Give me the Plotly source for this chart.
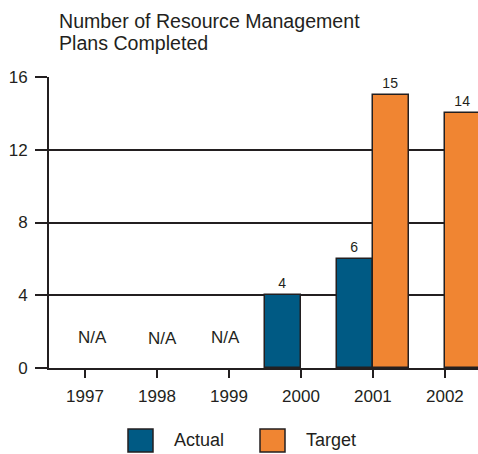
import plotly.graph_objects as go

years = ["1997", "1998", "1999", "2000", "2001", "2002"]
actual = [None, None, None, 4, 6, None]
target = [None, None, None, None, 15, 14]
na_years = ["1997", "1998", "1999"]
na_y = [1.7, 1.6, 1.7]
y_ticks = [0, 4, 8, 12, 16]
title_lines = ["Number of Resource Management", "Plans Completed"]

W, H = 478, 454
L, R, T, B = 49, 0, 77, 86
pw, ph = W - L - R, H - T - B

FONT = "Liberation Sans, Arial, sans-serif"
INK = "#231f20"
BLUE = "#005a84"
ORANGE = "#f08532"
NA_SHIFT = [8, 6, -3]

fig = go.Figure()
fig.add_trace(go.Bar(x=years, y=actual, name="Actual", marker=dict(color=BLUE, line=dict(color=INK, width=1.5)),
                     text=[("%d" % v if v is not None else "") for v in actual], textposition="outside",
                     textfont=dict(size=14, color=INK), cliponaxis=False, showlegend=False))
fig.add_trace(go.Bar(x=years, y=target, name="Target", marker=dict(color=ORANGE, line=dict(color=INK, width=1.5)),
                     text=[("%d" % v if v is not None else "") for v in target], textposition="outside",
                     textfont=dict(size=14, color=INK), cliponaxis=False, showlegend=False))

for yr, yv, sh in zip(na_years, na_y, NA_SHIFT):
    fig.add_annotation(x=years.index(yr), y=yv, xref="x", yref="y", text="N/A", showarrow=False,
                       xshift=sh, font=dict(size=17, color=INK, family=FONT))

def px_x(p):
    return (p - L) / pw

def px_y(p):
    return (H - B - p) / ph

# title (two lines)
for line, cy in zip(title_lines, [21, 43]):
    fig.add_annotation(xref="paper", yref="paper", x=px_x(57), y=px_y(cy), text=line, showarrow=False,
                       xanchor="left", yanchor="middle", font=dict(size=19.6, color=INK, family=FONT))

# legend
for x0, label, col in [(128, "Actual", BLUE), (260, "Target", ORANGE)]:
    fig.add_shape(type="rect", xref="paper", yref="paper", x0=px_x(x0), x1=px_x(x0 + 25),
                  y0=px_y(429), y1=px_y(452), fillcolor=col, line=dict(color=INK, width=1.5))
    fig.add_annotation(xref="paper", yref="paper", x=px_x(x0 + 44), y=px_y(440), text=label,
                       showarrow=False, xanchor="left", yanchor="middle",
                       font=dict(size=18, color=INK, family=FONT))

fig.update_layout(
    width=W, height=H,
    margin=dict(l=L, r=R, t=T, b=B),
    paper_bgcolor="white", plot_bgcolor="white",
    font=dict(family=FONT, color=INK, size=17),
    barmode="group", bargap=0, bargroupgap=0,
    showlegend=False,
    xaxis=dict(type="category", range=[-0.5, 5.46], showline=True, linecolor=INK, linewidth=2,
               ticks="outside", ticklen=8, tickwidth=2, tickcolor=INK, showgrid=False,
               tickfont=dict(size=17), zeroline=False, ticklabelstandoff=4),
    yaxis=dict(range=[0, 16], tickvals=y_ticks, showline=True, linecolor=INK, linewidth=2,
               ticks="outside", ticklen=12, tickwidth=2, tickcolor=INK,
               showgrid=True, gridcolor=INK, gridwidth=1.5, zeroline=False,
               tickfont=dict(size=17), ticklabelstandoff=4),
)

fig.write_html("out.html")
